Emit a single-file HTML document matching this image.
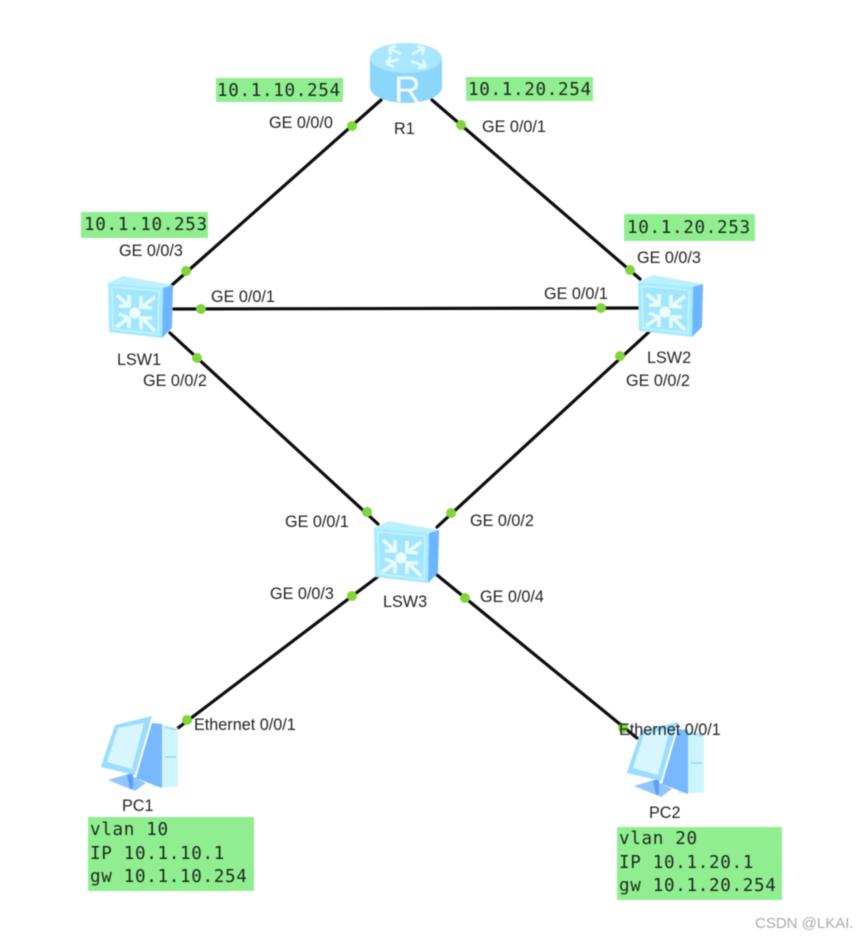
<!DOCTYPE html>
<html><head><meta charset="utf-8"><style>
html,body{margin:0;padding:0;background:#fff;width:860px;height:938px;overflow:hidden}
svg{display:block;filter:blur(.45px)}
.l{font-family:"Liberation Sans",Arial,sans-serif;font-size:16.2px;fill:#222}
.m{font-family:"DejaVu Sans Mono","Liberation Mono",monospace;font-size:17.6px;letter-spacing:.66px;fill:#1c2a1c}
</style></head><body>
<svg width="860" height="938" viewBox="0 0 860 938" xmlns="http://www.w3.org/2000/svg">
<defs>
<g id="sw">
<polygon points="108,283 123,276 173,285 163,288" fill="#bdf0ff"/>
<polygon points="163,288 173,285 172,328 162,338" fill="#6cb6ff"/>
<polygon points="108,283 163,288 162,338 109,332" fill="#a6eaff"/>
<polygon points="112,287 159,291 158,334 113,329" fill="#a2e6fd" stroke="#c4f4ff" stroke-width="1.5"/>
<circle cx="135" cy="313" r="5.5" fill="#f0fcff"/>
<g fill="none" stroke="#e8fbff" stroke-width="3.6">
<path d="M117 295 L129 306 M119 306 L129 306 L129 295"/>
<path d="M155 297 L142 307 M141 296 L141 307 L152 308"/>
<path d="M116 327 L129 318 M119 314 L129 318 L129 328"/>
<path d="M155 331 L142 318 M141 329 L141 318 L152 318"/>
</g>
</g>
<g id="pc">
<polygon points="108,780 128,774 146,783 135,791" fill="#8fc6ff"/>
<polygon points="127,775 133,772 133,788 130,789" fill="#5c9dff"/>
<polygon points="153,723 178,728 178,787 152,787" fill="#cdf5ff"/>
<polygon points="152,723 162,724 162,788 136,778" fill="#78b8ff"/>
<polygon points="100.7,767 115,725 152,716 135,775" fill="#9cdcff"/>
<polygon points="107,762 118,728 144,723 132,769" fill="#d8f6ff"/>
<path d="M165 727 L176 730 M165 757 L176 757" stroke="#8fd0f5" stroke-width="1.2"/>
</g>
</defs>
<rect width="860" height="938" fill="#fff"/>
<g stroke="#0c0c0c" stroke-width="3.2" stroke-linecap="round" fill="none">
<line x1="381" y1="100" x2="172" y2="285"/>
<line x1="432" y1="100" x2="640" y2="279"/>
<line x1="174" y1="309" x2="638" y2="308"/>
<line x1="170" y1="333" x2="378" y2="524"/>
<line x1="650" y1="331" x2="437" y2="527"/>
<line x1="380" y1="575" x2="178" y2="728"/>
<line x1="437" y1="575" x2="637" y2="738"/>
</g>
<g fill="#82d43c">
<circle cx="352" cy="126" r="5"/><circle cx="461" cy="125" r="5"/>
<circle cx="186" cy="271" r="5"/><circle cx="630" cy="270" r="5"/>
<circle cx="201" cy="309" r="5"/><circle cx="601" cy="308" r="5"/>
<circle cx="197" cy="358" r="5"/><circle cx="620" cy="356" r="5"/>
<circle cx="367" cy="512" r="5"/><circle cx="451" cy="513" r="5"/>
<circle cx="352" cy="596" r="5"/><circle cx="465" cy="598" r="5"/>
<circle cx="187" cy="720" r="5"/><circle cx="623" cy="728" r="5"/>
</g>
<!-- router -->
<path d="M370 58 V87 C370 96 386 103 406 103 C426 103 442 96 442 87 V58 Z" fill="#8cd6fc"/>
<ellipse cx="406" cy="58" rx="36" ry="15" fill="#a9e6ff"/>
<g fill="none" stroke="#e2f9ff" stroke-width="2.8">
<path d="M389 48 L401 54 M389 48 L396 46 M389 48 L391 55"/>
<path d="M424 48 L412 54 M424 48 L417 46 M424 48 L422 55"/>
<path d="M386 63 L399 59 M386 63 L391 57 M386 63 L394 67"/>
<path d="M426 67 L411 61 M426 67 L418 68 M426 67 L423 60"/>
</g>
<text x="394" y="102" font-family="Liberation Sans,sans-serif" font-size="37" fill="#f2fcff">R</text>
<use href="#sw"/>
<use href="#sw" transform="translate(530,-1)"/>
<use href="#sw" transform="translate(266,245)"/>
<use href="#pc"/>
<use href="#pc" transform="translate(526,6)"/>
<!-- boxes -->
<g fill="#90ee90">
<rect x="216" y="78" width="127" height="24"/>
<rect x="466" y="77" width="127" height="24"/>
<rect x="81" y="212" width="127" height="26"/>
<rect x="624" y="214" width="131" height="27"/>
<rect x="88" y="817" width="166" height="74"/>
<rect x="617" y="827" width="165" height="73"/>
</g>
<g>
<text class="m" x="217" y="96">10.1.10.254</text>
<text class="m" x="468" y="95">10.1.20.254</text>
<text class="m" x="84" y="230">10.1.10.253</text>
<text class="m" x="627" y="233">10.1.20.253</text>
<text class="m" x="90" y="835">vlan 10</text>
<text class="m" x="90" y="859">IP 10.1.10.1</text>
<text class="m" x="90" y="882">gw 10.1.10.254</text>
<text class="m" x="619" y="844">vlan 20</text>
<text class="m" x="619" y="868">IP 10.1.20.1</text>
<text class="m" x="619" y="891">gw 10.1.20.254</text>
</g>
<g>
<text class="l" x="269" y="128">GE 0/0/0</text>
<text class="l" x="482" y="132">GE 0/0/1</text>
<text class="l" x="394" y="134">R1</text>
<text class="l" x="119" y="256">GE 0/0/3</text>
<text class="l" x="211" y="302">GE 0/0/1</text>
<text class="l" x="544" y="299">GE 0/0/1</text>
<text class="l" x="637" y="263">GE 0/0/3</text>
<text class="l" x="117" y="365">LSW1</text>
<text class="l" x="647" y="363">LSW2</text>
<text class="l" x="143" y="386">GE 0/0/2</text>
<text class="l" x="626" y="386">GE 0/0/2</text>
<text class="l" x="285" y="527">GE 0/0/1</text>
<text class="l" x="470" y="526">GE 0/0/2</text>
<text class="l" x="270" y="599">GE 0/0/3</text>
<text class="l" x="480" y="602">GE 0/0/4</text>
<text class="l" x="383" y="607">LSW3</text>
<text class="l" x="194" y="730">Ethernet 0/0/1</text>
<text class="l" x="619" y="735">Ethernet 0/0/1</text>
<text class="l" x="122" y="811">PC1</text>
<text class="l" x="649" y="818">PC2</text>
<text x="755" y="928" font-family="Liberation Sans,sans-serif" font-size="15" fill="#aaa">CSDN @LKAI.</text>
</g>
</svg>
</body></html>
